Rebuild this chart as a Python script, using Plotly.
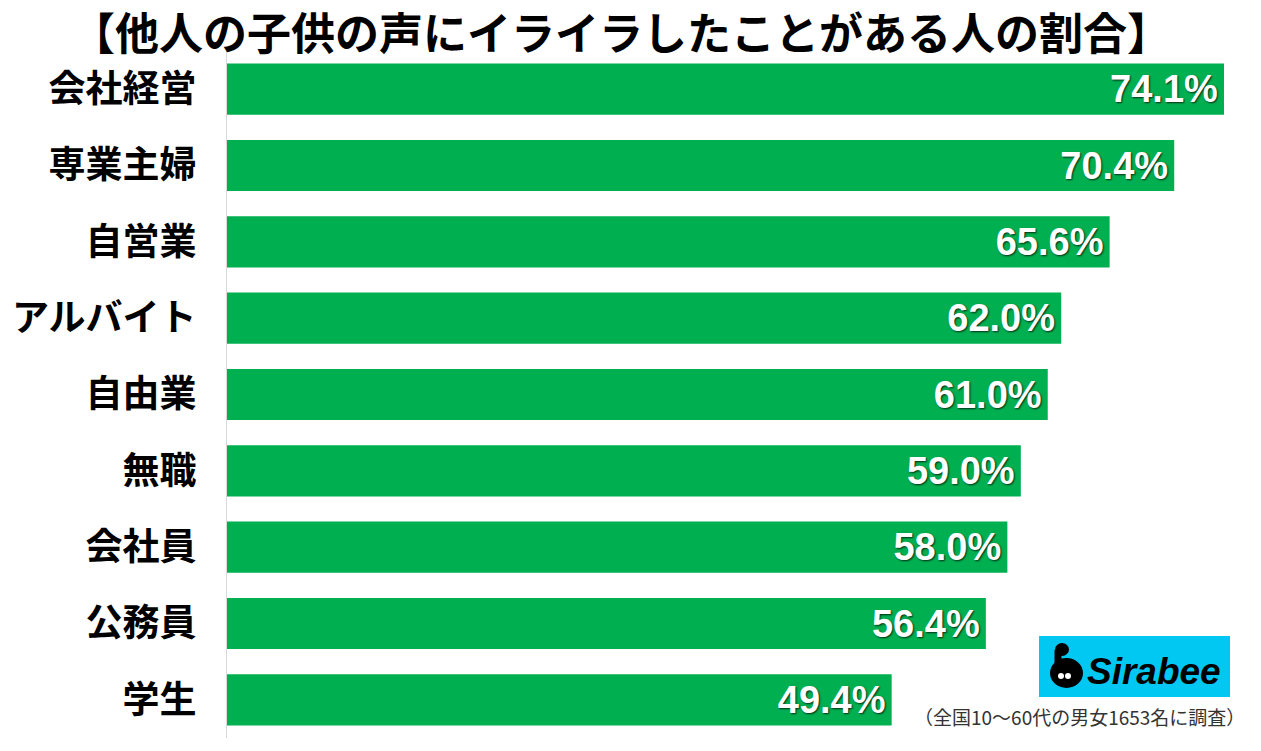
import plotly.graph_objects as go

categories = ["会社経営", "専業主婦", "自営業", "アルバイト", "自由業", "無職", "会社員", "公務員", "学生"]
values = [74.1, 70.4, 65.6, 62.0, 61.0, 59.0, 58.0, 56.4, 49.4]
value_labels = ["74.1%", "70.4%", "65.6%", "62.0%", "61.0%", "59.0%", "58.0%", "56.4%", "49.4%"]
title_text = "【他人の子供の声にイライラしたことがある人の割合】"
footnote_text = "（全国10〜60代の男女1653名に調査）"
logo_text = "Sirabee"

W, H = 1261, 751
ML, MR, MT, MB = 227, 37, 51, 13
PW, PH = W - ML - MR, H - MT - MB


def px(x):
    return (x - ML) / PW


def py(y):
    return (H - MB - y) / PH


CJK = "Noto Sans CJK JP"

fig = go.Figure(
    go.Bar(
        x=values,
        y=categories,
        orientation="h",
        marker=dict(color="#00B050", line=dict(width=0)),
        text=value_labels,
        texttemplate="%{text}\u200a",
        textposition="inside",
        insidetextanchor="end",
        textangle=0,
        constraintext="none",
        textfont=dict(family="Liberation Sans, Arial", size=38, color="white",
                      weight="bold", shadow="1px 1px 2px rgba(0,0,0,0.75)"),
        hoverinfo="skip",
    )
)

fig.update_layout(
    width=W,
    height=H,
    margin=dict(l=ML, r=MR, t=MT, b=MB),
    plot_bgcolor="white",
    paper_bgcolor="white",
    bargap=0.33,
    showlegend=False,
    title=dict(
        text=title_text,
        x=621 / W,
        xref="container",
        xanchor="center",
        y=1 - 35 / H,
        yref="container",
        yanchor="middle",
        font=dict(family=CJK, size=44, color="black", weight="bold"),
    ),
    xaxis=dict(range=[0, 74.1], visible=False, fixedrange=True),
    yaxis=dict(
        autorange="reversed",
        showline=True,
        linecolor="#d9d9d9",
        linewidth=1,
        showgrid=False,
        ticks="",
        ticklabelstandoff=22,
        tickfont=dict(family=CJK, size=37, color="black", weight="bold"),
        fixedrange=True,
    ),
)

# footnote
fig.add_annotation(
    text=footnote_text, xref="paper", yref="paper",
    x=px(1079), y=py(716), xanchor="center", yanchor="middle",
    showarrow=False, font=dict(family=CJK, size=19, color="#333333"),
)

# logo box
fig.add_shape(type="rect", xref="paper", yref="paper",
              x0=px(1039), x1=px(1230), y0=py(697), y1=py(636),
              fillcolor="#00C8F2", line=dict(width=0), layer="above")
fig.add_annotation(
    text="<i>" + logo_text + "</i>", xref="paper", yref="paper",
    x=px(1154), y=py(671), xanchor="center", yanchor="middle",
    showarrow=False, font=dict(family="Liberation Sans, Arial", size=37, color="black", weight="bold"),
)
# logo icon (swan)
fig.add_shape(type="circle", xref="paper", yref="paper",
              x0=px(1050), x1=px(1083), y0=py(688), y1=py(658),
              fillcolor="black", line=dict(width=0), layer="above")
fig.add_shape(type="line", xref="paper", yref="paper",
              x0=px(1058), x1=px(1058), y0=py(665), y1=py(650),
              line=dict(color="black", width=7), layer="above")
fig.add_shape(type="circle", xref="paper", yref="paper",
              x0=px(1055), x1=px(1069), y0=py(656), y1=py(643),
              fillcolor="black", line=dict(width=0), layer="above")
for ex in (1061, 1068):
    fig.add_shape(type="circle", xref="paper", yref="paper",
                  x0=px(ex - 3), x1=px(ex + 3), y0=py(679), y1=py(673),
                  fillcolor="white", line=dict(width=0), layer="above")

fig.write_html("out.html", config={"displayModeBar": False},
               post_script="document.body.style.margin='0';")
